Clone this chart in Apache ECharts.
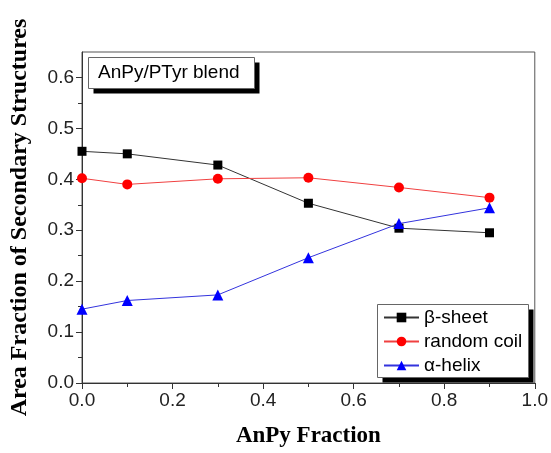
<!DOCTYPE html>
<html>
<head>
<meta charset="utf-8">
<script src="https://cdn.jsdelivr.net/npm/echarts@6/dist/echarts.min.js"></script>
<style>
  html, body { margin: 0; padding: 0; background: #fff; }
  #chart { width: 551px; height: 453px; }
</style>
</head>
<body>
<div id="chart"></div>
<script type="text/javascript">
  // AnPy fraction vs. area fraction of secondary structures
  var anpyFraction = [0.0, 0.1, 0.3, 0.5, 0.7, 0.9];
  var betaSheet = [0.455, 0.450, 0.428, 0.353, 0.304, 0.295];
  var randomCoil = [0.402, 0.390, 0.401, 0.403, 0.384, 0.364];
  var alphaHelix = [0.145, 0.162, 0.173, 0.246, 0.313, 0.344];
  var yTicks = [0, 0.1, 0.2, 0.3, 0.4, 0.5, 0.6];
  var yMinorTicks = [0.05, 0.15, 0.25, 0.35, 0.45, 0.55];

  function pairs(xs, ys) {
    return xs.map(function (x, i) { return [x, ys[i]]; });
  }

  // box with a hard black drop shadow, like the Origin plot
  function shadowBox(x, y, w, h) {
    return [
      { type: 'rect', z: 1, shape: { x: x + 5, y: y + 5, width: w, height: h }, style: { fill: '#000' } },
      { type: 'rect', z: 2, shape: { x: x, y: y, width: w, height: h }, style: { fill: '#fff', stroke: '#666', lineWidth: 1 } }
    ];
  }

  var myChart = echarts.init(document.getElementById('chart'));

  var labelFont = 'Liberation Sans';
  var titleFont = 'Liberation Serif';

  var option = {
    animation: false,
    graphic: shadowBox(88.5, 57.5, 166, 31).concat(shadowBox(377.5, 304.5, 151, 73)).concat([
      {
        type: 'text',
        z: 3,
        left: 98,
        top: 63,
        style: {
          text: 'AnPy/PTyr blend',
          font: '19px "Liberation Sans"',
          fill: '#000'
        }
      }
    ]),
    legend: {
      orient: 'vertical',
      left: 383,
      top: 308,
      padding: 0,
      itemGap: 5,
      itemWidth: 35,
      itemHeight: 12,
      z: 10,
      textStyle: {
        fontFamily: labelFont,
        fontSize: 19,
        color: '#000'
      },
      data: ['\u03b2-sheet', 'random coil', '\u03b1-helix']
    },
    grid: {
      left: 82,
      right: 15,
      top: 52,
      bottom: 67,
      show: true,
      borderColor: '#555',
      borderWidth: 1
    },
    xAxis: {
      type: 'value',
      min: 0,
      max: 1,
      interval: 0.2,
      name: 'AnPy Fraction',
      nameLocation: 'middle',
      nameGap: 42,
      nameTextStyle: {
        fontFamily: titleFont,
        fontWeight: 'bold',
        fontSize: 23,
        color: '#000'
      },
      axisLine: { show: true, lineStyle: { color: '#333', width: 1 } },
      axisTick: { show: true, inside: false, length: 6, lineStyle: { color: '#333' } },
      minorTick: { show: true, splitNumber: 2, length: 4, lineStyle: { color: '#333' } },
      splitLine: { show: false },
      axisLabel: {
        fontFamily: labelFont,
        fontSize: 19,
        color: '#222',
        margin: 8,
        formatter: function (v) { return v.toFixed(1); }
      }
    },
    yAxis: [
      {
        type: 'value',
        min: 0,
        max: 0.65,
        name: 'Area Fraction of Secondary Structures',
        nameLocation: 'middle',
        nameGap: 50,
        nameTextStyle: {
          fontFamily: titleFont,
          fontWeight: 'bold',
          fontSize: 24,
          color: '#000'
        },
        axisLine: { show: true, lineStyle: { color: '#333', width: 1 } },
        axisTick: { show: true, inside: false, length: 6, customValues: yTicks, lineStyle: { color: '#333' } },
        splitLine: { show: false },
        axisLabel: {
          fontFamily: labelFont,
          fontSize: 19,
          color: '#222',
          margin: 8,
          customValues: yTicks,
          formatter: function (v) { return v.toFixed(1); }
        }
      },
      {
        type: 'value',
        min: 0,
        max: 0.65,
        position: 'left',
        axisLine: { show: false },
        axisTick: { show: true, inside: false, length: 4, customValues: yMinorTicks, lineStyle: { color: '#333' } },
        axisLabel: { show: false },
        splitLine: { show: false }
      }
    ],
    series: [
      {
        name: '\u03b2-sheet',
        type: 'line',
        data: pairs(anpyFraction, betaSheet),
        symbol: 'rect',
        symbolSize: 9,
        itemStyle: { color: '#000' },
        lineStyle: { color: '#333', width: 1 }
      },
      {
        name: 'random coil',
        type: 'line',
        data: pairs(anpyFraction, randomCoil),
        symbol: 'circle',
        symbolSize: 10,
        itemStyle: { color: '#ff0000' },
        lineStyle: { color: '#f04040', width: 1 }
      },
      {
        name: '\u03b1-helix',
        type: 'line',
        data: pairs(anpyFraction, alphaHelix),
        symbol: 'triangle',
        symbolSize: 11,
        itemStyle: { color: '#0000ff' },
        lineStyle: { color: '#3333dd', width: 1 }
      }
    ]
  };

  myChart.setOption(option);

  window.addEventListener('resize', myChart.resize);
</script>
</body>
</html>
